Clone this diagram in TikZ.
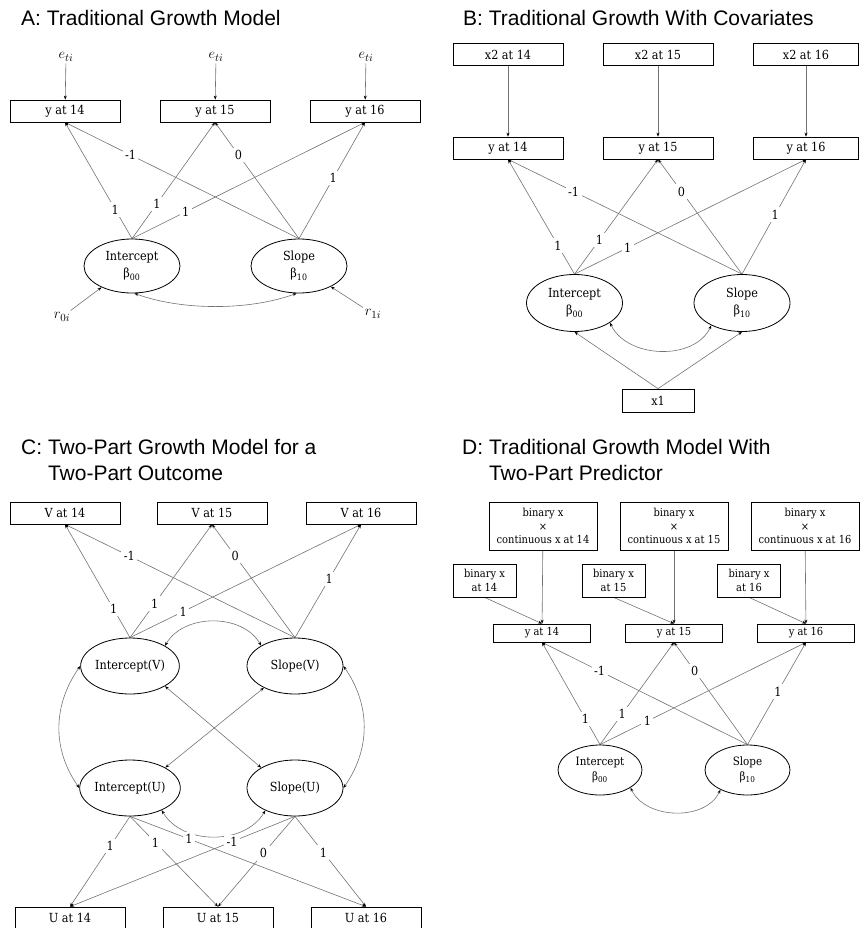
\documentclass[tikz,border=0pt]{standalone}
\usepackage{amsmath}
\usepackage{fontspec}
\usepackage{tikz}
\usetikzlibrary{shapes}
\usetikzlibrary{shapes.geometric}
\usetikzlibrary{arrows.meta}
\pgfdeclarelayer{edgelayer}
\pgfdeclarelayer{nodelayer}
\pgfsetlayers{edgelayer,nodelayer,main}
\setmainfont{DejaVu Serif Condensed}
\newfontfamily\titlefont{Liberation Sans}
\definecolor{edgegray}{rgb}{0.45,0.45,0.45}
\tikzstyle{none}=[inner sep=0pt]
\tikzstyle{title}=[inner sep=0pt, anchor=west, align=left, font=\titlefont\fontsize{21}{26}\selectfont]
\tikzstyle{box}=[draw, line width=0.7pt, fill=white, inner sep=0pt, minimum width=110pt, minimum height=22pt, align=center, font=\fontsize{12.5}{15}\selectfont]
\tikzstyle{smallbox}=[box, font=\fontsize{11}{13.5}\selectfont]
\tikzstyle{latent}=[ellipse, draw, line width=0.8pt, fill=white, inner sep=0pt, minimum width=96pt, minimum height=54pt, align=center, font=\fontsize{12.5}{17}\selectfont]
\tikzstyle{error}=[inner sep=2pt, font=\fontsize{15}{17}\selectfont]
\tikzstyle{link}=[edgegray, line width=0.6pt, -{Stealth[color=black, length=4pt, width=3pt]}]
\tikzstyle{cov}=[edgegray, line width=0.6pt, {Stealth[color=black, length=4pt, width=3pt]}-{Stealth[color=black, length=4pt, width=3pt]}]
\tikzstyle{load}=[fill=white, text=black, inner sep=2.5pt, font=\fontsize{12.5}{14}\selectfont]

\begin{document}
\begin{tikzpicture}[x=1pt, y=1pt]
	\useasboundingbox (0, 0) rectangle (859, -928);
	\begin{pgfonlayer}{nodelayer}
		\node [style=title] (0) at (21, -18) {A: Traditional Growth Model};
		\node [style=error] (1) at (66, -57) {$e_{ti}$};
		\node [style=error] (2) at (216, -57) {$e_{ti}$};
		\node [style=error] (3) at (366, -57) {$e_{ti}$};
		\node [style=box] (4) at (65, -111) {y at 14};
		\node [style=box] (5) at (215, -111) {y at 15};
		\node [style=box] (6) at (365, -111) {y at 16};
		\node [style=latent] (7) at (132, -266) {Intercept\\β\textsubscript{00}};
		\node [style=latent] (8) at (299, -266) {Slope\\β\textsubscript{10}};
		\node [style=error] (9) at (62, -317) {$r_{0i}$};
		\node [style=error] (10) at (373, -314) {$r_{1i}$};
		\node [style=title] (11) at (463, -18) {B: Traditional Growth With Covariates};
		\node [style=box] (12) at (508, -54.5) {x2 at 14};
		\node [style=box] (13) at (658, -54.5) {x2 at 15};
		\node [style=box, minimum width=105pt] (14) at (806, -54.5) {x2 at 16};
		\node [style=box] (15) at (508, -148) {y at 14};
		\node [style=box] (16) at (658, -148) {y at 15};
		\node [style=box, minimum width=105pt] (17) at (806, -148) {y at 16};
		\node [style=latent, minimum height=57pt] (18) at (574.5, -303) {Intercept\\β\textsubscript{00}};
		\node [style=latent, minimum height=57pt] (19) at (742, -303) {Slope\\β\textsubscript{10}};
		\node [style=box, minimum width=72pt, minimum height=23pt] (20) at (658, -400.5) {x1};
		\node [style=title] (21) at (21, -460) {C: Two-Part Growth Model for a\\\hphantom{C: }Two-Part Outcome};
		\node [style=box] (22) at (65, -513) {V at 14};
		\node [style=box] (23) at (212, -513) {V at 15};
		\node [style=box] (24) at (361, -513) {V at 16};
		\node [style=latent, minimum height=56pt] (25) at (130, -666) {Intercept(V)};
		\node [style=latent, minimum height=56pt] (26) at (295, -666) {Slope(V)};
		\node [style=latent, minimum height=56pt] (27) at (130, -788) {Intercept(U)};
		\node [style=latent, minimum height=56pt] (28) at (295, -788) {Slope(U)};
		\node [style=box] (29) at (70, -918) {U at 14};
		\node [style=box] (30) at (218, -918) {U at 15};
		\node [style=box] (31) at (366, -918) {U at 16};
		\node [style=title] (32) at (462, -460) {D: Traditional Growth Model With\\\hphantom{D: }Two-Part Predictor};
		\node [style=smallbox, minimum width=108pt, minimum height=48pt] (33) at (543, -526) {binary x\\×\\continuous x at 14};
		\node [style=smallbox, minimum width=108pt, minimum height=48pt] (34) at (674, -526) {binary x\\×\\continuous x at 15};
		\node [style=smallbox, minimum width=108pt, minimum height=48pt] (35) at (805, -526) {binary x\\×\\continuous x at 16};
		\node [style=smallbox, minimum width=63pt, minimum height=33pt] (36) at (484.5, -580.5) {binary x\\at 14};
		\node [style=smallbox, minimum width=63pt, minimum height=33pt] (37) at (613.5, -580.5) {binary x\\at 15};
		\node [style=smallbox, minimum width=63pt, minimum height=33pt] (38) at (749, -580.5) {binary x\\at 16};
		\node [style=smallbox, minimum width=97pt, minimum height=18pt] (39) at (542, -633) {y at 14};
		\node [style=smallbox, minimum width=97pt, minimum height=18pt] (40) at (674, -633) {y at 15};
		\node [style=smallbox, minimum width=97pt, minimum height=18pt] (41) at (806, -633) {y at 16};
		\node [style=latent, minimum width=84pt, minimum height=50pt, font=\fontsize{11.5}{15}\selectfont] (42) at (600, -770) {Intercept\\β\textsubscript{00}};
		\node [style=latent, minimum width=85pt, minimum height=50pt, font=\fontsize{11.5}{15}\selectfont] (43) at (747.5, -770) {Slope\\β\textsubscript{10}};
	\end{pgfonlayer}
	\begin{pgfonlayer}{edgelayer}
		\draw [style=link] (1) to (4);
		\draw [style=link] (2) to (5);
		\draw [style=link] (3) to (6);
		\draw [style=link] (7.north) to node [style=load, pos=0.25] {1} (4.south);
		\draw [style=link] (7.north) to node [style=load, pos=0.3] {1} (5.south);
		\draw [style=link] (7.north) to node [style=load, pos=0.23] {1} (6.south);
		\draw [style=link] (8.north) to node [style=load, pos=0.72] {-1} (4.south);
		\draw [style=link] (8.north) to node [style=load, pos=0.72] {0} (5.south);
		\draw [style=link] (8.north) to node [style=load, pos=0.52] {1} (6.south);
		\draw [style=link] (9) to (7.215);
		\draw [style=link] (10) to (8.-33);
		\draw [style=cov] (7.-85) to [out=-20, in=-160, looseness=0.8] (8.-95);
		\draw [style=link] (12) to (15);
		\draw [style=link] (13) to (16);
		\draw [style=link] (14) to (17);
		\draw [style=link] (18.north) to node [style=load, pos=0.25] {1} (15.south);
		\draw [style=link] (18.north) to node [style=load, pos=0.3] {1} (16.south);
		\draw [style=link] (18.north) to node [style=load, pos=0.23] {1} (17.south);
		\draw [style=link] (19.north) to node [style=load, pos=0.72] {-1} (15.south);
		\draw [style=link] (19.north) to node [style=load, pos=0.72] {0} (16.south);
		\draw [style=link] (19.north) to node [style=load, pos=0.52] {1} (17.south);
		\draw [style=link] (20.north) to (18.south);
		\draw [style=link] (20.north) to (19.south);
		\draw [style=cov] (18.-29) to [out=-65, in=-115] (19.-144);
		\draw [style=link] (25.north) to node [style=load, pos=0.25] {1} (22.south);
		\draw [style=link] (25.north) to node [style=load, pos=0.3] {1} (23.south);
		\draw [style=link] (25.north) to node [style=load, pos=0.23] {1} (24.south);
		\draw [style=link] (26.north) to node [style=load, pos=0.72] {-1} (22.south);
		\draw [style=link] (26.north) to node [style=load, pos=0.72] {0} (23.south);
		\draw [style=link] (26.north) to node [style=load, pos=0.52] {1} (24.south);
		\draw [style=cov] (25.30) to [out=60, in=120] (26.149);
		\draw [style=cov] (25.180) to [out=-125, in=125] (27.180);
		\draw [style=cov] (26.0) to [out=-55, in=55] (28.0);
		\draw [style=cov] (27.-35) to [out=-60, in=-120] (28.-143);
		\draw [style=cov] (25.-30) to (28.149);
		\draw [style=cov] (26.-145) to (27.30);
		\draw [style=link] (27.south) to node [style=load, pos=0.33] {1} (29.north);
		\draw [style=link] (27.south) to node [style=load, pos=0.29] {1} (30.north);
		\draw [style=link] (27.south) to node [style=load, pos=0.25] {1} (31.north);
		\draw [style=link] (28.south) to node [style=load, pos=0.28] {-1} (29.north);
		\draw [style=link] (28.south) to node [style=load, pos=0.41] {0} (30.north);
		\draw [style=link] (28.south) to node [style=load, pos=0.4] {1} (31.north);
		\draw [style=link] (33) to (39);
		\draw [style=link] (34) to (40);
		\draw [style=link] (35) to (41);
		\draw [style=link] (36.south) to (39.north);
		\draw [style=link] (37.south) to (40.north);
		\draw [style=link] (38.south) to (41.north);
		\draw [style=link] (42.north) to node [style=load, pos=0.25] {1} (39.south);
		\draw [style=link] (42.north) to node [style=load, pos=0.3] {1} (40.south);
		\draw [style=link] (42.north) to node [style=load, pos=0.23] {1} (41.south);
		\draw [style=link] (43.north) to node [style=load, pos=0.72] {-1} (39.south);
		\draw [style=link] (43.north) to node [style=load, pos=0.72] {0} (40.south);
		\draw [style=link] (43.north) to node [style=load, pos=0.52] {1} (41.south);
		\draw [style=cov] (42.-30) to [out=-65, in=-115] (43.-144);
	\end{pgfonlayer}
\end{tikzpicture}
\end{document}
